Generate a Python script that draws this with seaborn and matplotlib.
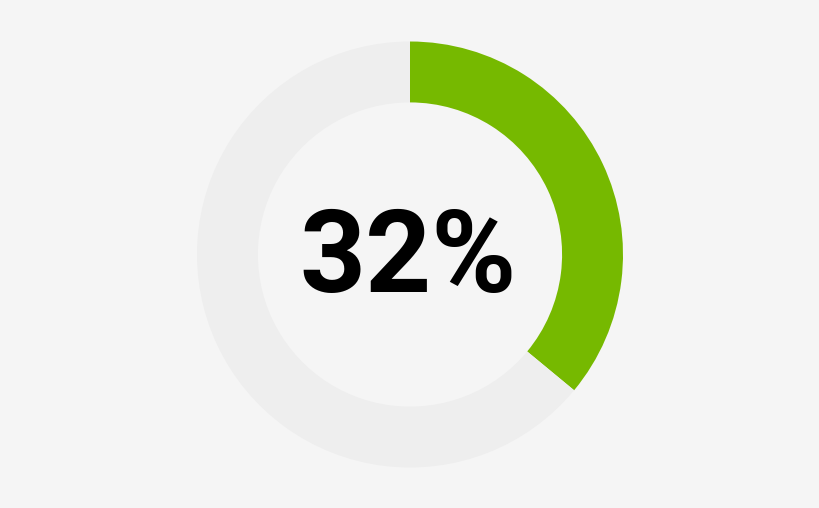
import matplotlib
matplotlib.use("Agg")
import matplotlib.pyplot as plt
import seaborn as sns

labels = ["Achieved", "Remaining"]
values = [36, 64]
center_label = "32%"
colors = ["#76b900", "#eeeeee"]

sns.set_theme(style="white")
plt.rcParams['font.family'] = ['Roboto', 'DejaVu Sans']

fig = plt.figure(figsize=(8.2, 5.08), dpi=100, facecolor="#f5f5f5")
ax = fig.add_axes([0, 0, 1, 1])
ax.set_facecolor("#f5f5f5")

ax.pie(values, colors=colors, startangle=90, counterclock=False, radius=1.0,
       wedgeprops=dict(width=0.286, edgecolor="none", linewidth=0))
ax.set_xlim(-410/213, 410/213)
ax.set_ylim(-(508-254.5)/213, 254.5/213)
ax.set_aspect('auto')
ax.axis('off')

ax.text(-0.01, -0.178, center_label, ha='center', va='baseline', fontsize=83,
        fontweight='bold', color='#000000')

fig.savefig("out.png", dpi=100, facecolor="#f5f5f5")
